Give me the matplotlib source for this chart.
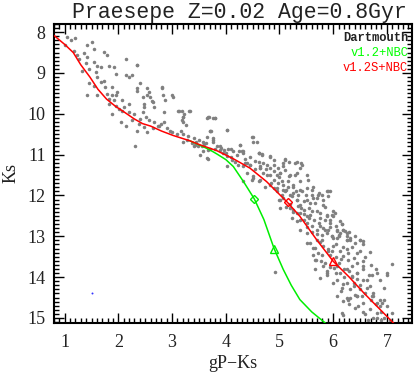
"""Praesepe colour-magnitude diagram with Dartmouth isochrones."""

import matplotlib
matplotlib.use("Agg")
import matplotlib.pyplot as plt
from matplotlib.ticker import MultipleLocator

# Cluster members (gP-Ks, Ks)
STARS_UPPER = [
    (1.05, 8.11), (1.12, 8.19), (1.19, 8.14), (1.00, 8.31), (1.42, 8.31),
    (1.50, 8.25), (1.55, 8.41), (1.17, 8.47), (1.23, 8.57), (1.36, 8.52),
    (1.42, 8.61), (1.27, 8.66), (1.39, 8.76), (1.55, 8.74), (1.61, 8.82),
    (1.73, 8.49), (1.79, 8.57), (2.14, 8.66), (2.35, 8.80), (1.32, 8.94),
    (1.45, 8.90), (1.58, 8.98), (1.67, 8.86), (1.82, 8.82), (1.92, 8.86),
    (1.95, 9.02), (2.14, 9.06), (2.20, 9.10), (2.26, 9.06), (1.61, 9.10),
    (1.73, 9.19), (1.45, 9.25), (1.55, 9.31), (1.67, 9.23), (1.76, 9.35),
    (1.89, 9.35), (1.42, 9.54), (1.61, 9.54), (1.79, 9.51), (1.89, 9.55),
    (1.95, 9.55), (1.98, 9.47), (1.82, 9.63), (1.92, 9.66), (2.07, 9.67),
    (2.35, 9.43), (2.45, 9.59), (2.54, 9.55), (2.57, 9.47), (2.82, 9.35),
    (3.00, 9.55), (2.48, 9.76), (2.63, 9.69), (2.20, 9.76), (2.10, 9.84),
    (1.82, 9.76), (1.95, 9.80), (2.01, 9.88), (1.89, 10.00), (2.07, 9.92),
    (2.20, 9.96), (2.29, 10.00), (2.45, 9.96), (2.48, 9.84), (2.66, 9.84),
    (2.85, 9.96), (2.41, 10.12), (2.51, 10.08), (2.57, 10.16), (2.66, 10.20),
    (2.04, 10.20), (2.14, 10.29), (2.26, 10.16), (2.38, 10.24), (2.35, 10.41),
    (2.48, 10.33), (2.54, 10.45), (2.73, 10.29), (2.79, 10.24), (2.85, 10.20),
    (2.97, 10.42), (3.13, 9.92), (3.19, 10.16), (3.22, 10.00), (2.31, 10.78),
    (2.81, 9.37), (2.87, 9.66), (3.02, 9.58), (3.11, 9.94), (3.33, 9.94),
    (3.20, 10.07), (3.20, 10.19), (3.65, 10.11), (3.77, 10.11), (3.71, 10.43),
    (3.65, 10.57), (3.77, 10.58), (3.65, 11.08), (2.34, 8.80), (2.40, 9.25),
    (2.34, 9.37), (2.54, 9.37), (2.59, 9.58), (2.65, 9.70), (2.84, 9.54),
]

STARS_MIDDLE = [
    (3.18, 9.94), (3.21, 10.07), (3.32, 9.94), (3.26, 10.27), (3.17, 10.43),
    (3.68, 10.08), (3.80, 10.11), (4.02, 10.39), (3.72, 10.42), (3.76, 10.64),
    (3.77, 10.70), (3.57, 10.70), (3.27, 10.64), (3.21, 10.68), (3.37, 10.72),
    (3.43, 10.76), (3.49, 10.80), (3.66, 10.88), (3.83, 10.80), (3.92, 10.84),
    (3.96, 10.88), (4.09, 10.86), (4.27, 10.76), (4.33, 10.92), (4.50, 10.57),
    (4.51, 10.70), (4.58, 10.70), (4.61, 10.95), (4.67, 10.98), (4.82, 11.06),
    (4.02, 11.04), (4.11, 11.13), (4.17, 11.17), (4.23, 11.25), (4.36, 11.21),
    (3.66, 11.10), (3.52, 11.00), (3.40, 10.80), (4.61, 11.17), (4.64, 11.33),
    (4.82, 11.33), (4.98, 11.33), (5.10, 11.13), (5.17, 11.19), (5.32, 11.17),
    (3.66, 10.08), (3.80, 10.11), (3.71, 10.43), (4.03, 10.39), (4.48, 10.57),
    (4.27, 10.76), (3.64, 10.72), (3.57, 10.92), (3.89, 10.88), (3.95, 10.96),
    (4.14, 10.92), (4.33, 10.96), (4.61, 10.95), (5.10, 11.11), (5.41, 11.21),
    (3.90, 10.80), (4.00, 10.95), (4.10, 11.05), (4.25, 10.90), (3.80, 10.85),
    (3.60, 10.75), (3.50, 10.65), (3.40, 10.60), (3.30, 10.55), (3.10, 10.50),
    (3.00, 10.45), (2.90, 10.35), (2.75, 10.30), (2.65, 10.35), (3.20, 10.50),
    (3.45, 10.70), (3.55, 10.80), (3.70, 10.85), (4.05, 10.85), (4.45, 11.05),
]

STARS_BAND = [
    (5.07, 11.29), (4.76, 11.25), (4.64, 11.33), (4.45, 11.25), (4.02, 11.29),
    (4.51, 11.53), (4.33, 11.65), (4.48, 11.61), (4.64, 11.61), (4.82, 11.49),
    (4.89, 11.41), (5.01, 11.45), (5.10, 11.37), (5.20, 11.49), (5.32, 11.45),
    (5.38, 11.33), (5.51, 11.49), (4.73, 11.78), (4.82, 11.74), (4.95, 11.82),
    (5.07, 11.74), (5.13, 11.86), (5.26, 11.78), (5.38, 11.86), (5.51, 11.82),
    (5.63, 11.78), (5.72, 11.98), (5.88, 11.88), (5.91, 12.02), (5.00, 12.10),
    (5.07, 12.06), (5.23, 12.02), (5.32, 12.10), (5.38, 12.23), (5.51, 12.10),
    (5.63, 12.06), (5.66, 12.18), (5.82, 12.10), (5.85, 12.27), (6.00, 12.51),
    (5.01, 12.31), (5.13, 12.27), (5.26, 12.35), (5.32, 12.43), (5.45, 12.35),
    (5.57, 12.47), (5.69, 12.39), (5.76, 12.55), (5.88, 12.47), (5.94, 12.67),
    (6.16, 12.69), (6.19, 12.84), (5.38, 12.59), (5.51, 12.67), (5.60, 12.75),
    (5.69, 12.84), (5.82, 12.80), (5.88, 12.92), (5.97, 13.00), (6.07, 13.04),
    (6.13, 12.92), (6.25, 13.08), (6.50, 13.08), (6.56, 13.20), (5.51, 13.16),
    (5.63, 13.28), (5.69, 13.08), (5.72, 13.41), (5.82, 13.24), (5.91, 13.37),
    (6.00, 13.24), (6.13, 13.37), (6.19, 13.49), (6.28, 13.41), (6.38, 13.53),
    (6.44, 13.65), (6.69, 13.39), (5.66, 13.57), (5.85, 13.65), (5.88, 13.86),
    (4.30, 10.92), (4.61, 10.96), (4.67, 11.00), (4.82, 11.04), (4.33, 11.29),
    (4.45, 11.25), (4.64, 11.29), (4.89, 11.25), (4.89, 11.13), (5.07, 11.21),
    (5.29, 11.21), (5.42, 11.25), (4.39, 11.45), (4.51, 11.57), (4.61, 11.65),
    (4.76, 11.49), (4.89, 11.61), (4.98, 11.70), (5.01, 11.45), (5.17, 11.53),
    (5.29, 11.49), (5.38, 11.65), (5.54, 11.61), (4.89, 11.82), (5.07, 11.86),
    (5.26, 11.74), (5.26, 11.94), (5.42, 11.90), (5.60, 11.86), (5.73, 11.94),
    (5.91, 11.90), (5.01, 12.10), (5.20, 12.31), (5.32, 12.10), (5.45, 12.14),
    (5.57, 12.18), (5.69, 12.06), (5.82, 12.23), (5.38, 12.43), (5.51, 12.51),
    (5.60, 12.39), (5.76, 12.43), (5.88, 12.51), (6.00, 12.39), (6.13, 12.63),
    (5.23, 12.55), (5.32, 12.63), (5.51, 12.76), (5.73, 12.67), (5.85, 12.84),
    (5.94, 12.76), (6.07, 12.88), (6.19, 12.84), (6.25, 13.00), (5.79, 12.96),
    (5.97, 13.00), (5.38, 12.84), (5.94, 11.90), (5.97, 12.47), (6.04, 12.43),
    (6.16, 12.71), (6.07, 12.84), (6.22, 12.88), (6.25, 13.08), (6.32, 13.04),
    (6.50, 13.08), (6.56, 13.12), (6.00, 13.04), (6.10, 12.96), (6.19, 13.25),
    (4.20, 11.00), (4.35, 11.10), (4.40, 11.20), (4.55, 11.35), (4.70, 11.45),
    (4.85, 11.70), (4.95, 11.90), (5.05, 12.00), (5.20, 12.20), (5.25, 12.40),
    (5.40, 12.30), (5.45, 12.60), (5.55, 12.55), (5.60, 12.90), (5.70, 12.95),
    (5.75, 13.15), (5.80, 13.10), (5.90, 13.30), (5.95, 13.45), (6.05, 13.50),
    (6.10, 13.65), (6.15, 13.55), (4.70, 11.20), (5.00, 11.55), (5.15, 11.65),
    (5.30, 11.90), (5.35, 12.00), (5.51, 12.92), (5.57, 13.16), (5.66, 13.29),
    (5.63, 13.45), (5.68, 13.57), (6.10, 13.00), (6.25, 12.92), (6.31, 13.08),
    (6.41, 13.16), (6.44, 13.41), (5.95, 12.60), (6.05, 12.75), (6.30, 12.90),
    (6.40, 13.00), (6.35, 13.25), (6.50, 13.35), (6.60, 13.50), (6.55, 13.60),
    (6.25, 13.30), (6.05, 13.20), (5.98, 13.35), (5.80, 13.45), (5.78, 13.60),
    (5.35, 12.25), (5.45, 12.45), (5.55, 12.30), (5.65, 12.60), (5.75, 12.75),
    (5.85, 12.60), (5.90, 12.85), (5.10, 11.90), (5.20, 12.00), (5.15, 11.80),
    (5.50, 12.00), (5.60, 12.00), (5.80, 12.00), (4.55, 11.15), (4.75, 11.35),
    (4.95, 11.50), (5.05, 11.65),
]

STARS_LOWER = [
    (6.07, 13.73), (6.13, 13.90), (6.25, 13.81), (6.35, 13.98), (6.44, 13.90),
    (6.56, 13.81), (6.63, 14.06), (6.72, 13.94), (6.87, 14.06), (7.09, 13.69),
    (5.76, 14.02), (6.07, 14.06), (6.25, 14.14), (6.38, 14.22), (6.50, 14.30),
    (6.63, 14.26), (6.75, 14.39), (6.94, 14.26), (4.92, 13.88), (6.07, 14.47),
    (6.25, 14.51), (6.44, 14.47), (5.66, 13.81), (5.88, 13.94), (6.01, 13.77),
    (6.19, 14.18), (6.32, 14.30), (6.38, 14.14), (6.44, 14.47), (6.56, 14.06),
    (6.69, 14.22), (6.75, 14.47), (6.81, 14.63), (6.87, 14.71), (6.69, 14.79),
    (6.94, 14.55), (7.00, 13.94), (6.81, 14.87), (6.16, 14.87), (6.19, 14.59),
    (6.28, 14.56), (6.47, 14.71), (6.56, 14.63), (6.75, 14.99), (7.09, 14.87),
    (5.82, 13.73), (5.88, 13.90), (6.28, 13.57), (6.35, 13.73), (6.44, 13.90),
    (6.56, 13.73), (6.66, 13.94), (6.81, 13.90), (7.00, 13.90), (6.87, 14.55),
    (7.00, 14.71), (6.91, 14.63), (6.31, 14.51), (6.19, 14.92), (6.81, 15.00),
    (6.41, 14.43), (6.53, 14.47), (6.72, 14.47), (6.00, 14.14), (6.16, 14.26),
    (6.20, 13.80), (6.30, 13.85), (6.35, 14.00), (6.45, 14.05), (6.50, 14.20),
    (6.60, 14.40), (6.70, 14.55), (6.80, 14.65), (6.90, 14.85), (6.95, 15.00),
    (7.05, 15.05), (6.60, 14.90), (6.40, 14.75), (6.70, 13.70), (6.80, 13.80),
    (5.95, 13.75), (6.05, 13.90), (6.20, 14.00), (6.15, 14.35), (6.30, 14.65),
    (6.55, 14.85), (6.65, 15.05), (6.90, 15.05),
]

# Odd single point in blue
BLUE_STAR = (1.50, 14.40)

# Isochrones: v1.2S+NBC (red) and v1.2+NBC (green)
RED_X = [0.80, 1.00, 1.16, 1.30, 1.47, 1.62, 1.78, 1.95, 2.09, 2.29, 2.45,
         2.60, 2.80, 3.02, 3.33, 3.52, 3.83, 4.14, 4.45, 4.76, 5.15, 5.38,
         5.69, 6.00, 6.30, 6.58, 6.85, 7.12]
RED_Y = [8.08, 8.30, 8.50, 8.80, 9.10, 9.40, 9.64, 9.82, 9.94, 10.12, 10.24,
         10.30, 10.42, 10.53, 10.66, 10.76, 10.90, 11.10, 11.33, 11.66, 12.17,
         12.51, 13.08, 13.61, 14.00, 14.40, 14.76, 15.12]
GREEN_X = [3.33, 3.52, 3.70, 3.83, 4.00, 4.14, 4.33, 4.53, 4.71, 4.90, 5.07,
           5.22, 5.38, 5.60, 5.85]
GREEN_Y = [10.66, 10.77, 10.88, 10.98, 11.12, 11.29, 11.66, 12.08, 12.59,
           13.30, 13.81, 14.20, 14.55, 14.85, 15.12]

# Marked ages on each isochrone: diamond and triangle
RED_MARKS = [(5.15, 12.17), (6.00, 13.61)]
GREEN_MARKS = [(4.53, 12.08), (4.90, 13.30)]

TITLE = "Praesepe Z=0.02 Age=0.8Gyr"
LABELS = [("Dartmouth", "#222222"), ("v1.2+NBC", "#00ff00"), ("v1.2S+NBC", "#ff0000")]

SERIF = "Liberation Serif"
MONO = "Liberation Mono"


def main():
    fig = plt.figure(figsize=(4.15, 3.75), dpi=100)
    ax = fig.add_axes([0.130, 0.139, 0.863, 0.797])

    stars = STARS_UPPER + STARS_MIDDLE + STARS_BAND + STARS_LOWER
    xs = [s[0] for s in stars]
    ys = [s[1] for s in stars]
    ax.scatter(xs, ys, s=6.5, color="#808080", linewidths=0, zorder=2)
    ax.scatter([BLUE_STAR[0]], [BLUE_STAR[1]], s=2, color="#3333ff",
               linewidths=0, zorder=2)

    ax.plot(GREEN_X, GREEN_Y, color="#00ee00", lw=1.1, zorder=3)
    ax.plot(RED_X, RED_Y, color="#ff0000", lw=1.1, zorder=4)

    for marks, col in ((GREEN_MARKS, "#00ee00"), (RED_MARKS, "#ff0000")):
        ax.plot(marks[0][0], marks[0][1], marker="D", ms=4.5, mfc="none",
                mec=col, mew=1.0, zorder=5)
        ax.plot(marks[1][0], marks[1][1], marker="^", ms=5.5, mfc="none",
                mec=col, mew=1.0, zorder=5)

    ax.set_xlim(0.8, 7.47)
    ax.set_ylim(15.12, 7.8)
    ax.xaxis.set_major_locator(MultipleLocator(1))
    ax.xaxis.set_minor_locator(MultipleLocator(0.1))
    ax.yaxis.set_major_locator(MultipleLocator(1))
    ax.yaxis.set_minor_locator(MultipleLocator(0.1))
    ax.tick_params(which="both", direction="in", top=True, right=True,
                   width=1.0, color="black")
    ax.tick_params(which="major", length=7)
    ax.tick_params(which="minor", length=3.5)
    ax.tick_params(axis="x", pad=8, labelcolor="#222222")
    ax.tick_params(axis="y", pad=6, labelcolor="#222222")
    for lab in ax.get_xticklabels() + ax.get_yticklabels():
        lab.set_fontfamily(SERIF)
        lab.set_fontsize(13)
    for sp in ax.spines.values():
        sp.set_linewidth(1.5)

    ax.set_xlabel("gP\u2212Ks", fontfamily=SERIF, fontsize=13, labelpad=3,
                  color="#222222")
    ax.set_ylabel("Ks", fontfamily=SERIF, fontsize=13, labelpad=6,
                  color="#222222")

    fig.text(0.576, 0.966, TITLE, fontfamily=MONO, fontsize=15.5,
             ha="center", va="center", color="#222222")

    for i, (txt, col) in enumerate(LABELS):
        ax.text(0.989, 0.954 - i * 0.050, txt, transform=ax.transAxes,
                fontfamily=MONO, fontsize=8.7, ha="right", va="center",
                color=col, fontweight="bold" if i == 0 else "normal")

    fig.savefig("out.png", dpi=100)
    plt.close(fig)


if __name__ == "__main__":
    main()
